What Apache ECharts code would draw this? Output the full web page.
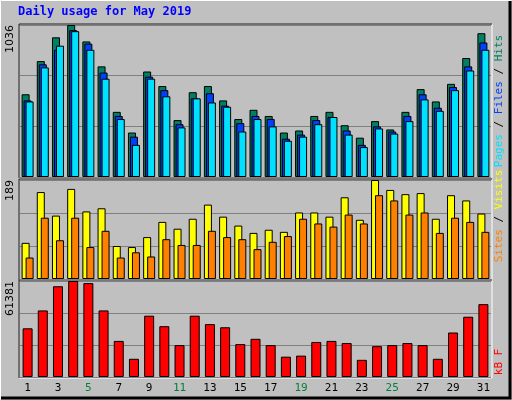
<!DOCTYPE html><html><head><meta charset="utf-8"><script src="https://cdn.jsdelivr.net/npm/echarts@6/dist/echarts.min.js"></script>
<style>html,body{margin:0;padding:0;background:#c0c0c0}#c{width:512px;height:400px}</style></head><body><div id="c"></div><script>
const days=['1','2','3','4','5','6','7','8','9','10','11','12','13','14','15','16','17','18','19','20','21','22','23','24','25','26','27','28','29','30','31'];
const weekend=['4','5','11','12','18','19','25','26'];
const hits=[564,790,952,1036,924,754,444,303,719,620,388,578,620,522,395,458,416,303,317,416,444,353,268,381,324,444,599,515,635,811,980];
const files=[522,768,867,1001,909,712,416,275,684,592,360,536,571,486,367,416,395,261,289,388,409,317,219,345,310,416,564,472,613,754,917];
const pages=[515,747,895,994,867,670,395,219,670,550,338,536,508,479,310,395,345,247,275,360,409,289,204,331,296,381,529,451,592,726,867];
const sites=[69,166,121,172,129,135,63,61,80,109,96,115,142,119,102,88,94,90,127,127,119,156,113,189,170,162,164,115,160,150,125];
const visits=[41,117,74,117,61,92,41,51,43,76,65,65,92,80,76,57,71,82,115,106,100,123,106,160,150,123,127,88,117,109,90];
const kbytes=[31136,42560,58016,61381,60032,42560,23072,11648,39200,32480,20384,39200,33824,31808,21056,24416,20384,12992,13664,22400,23072,21728,10976,19712,20384,21728,20384,11648,28448,38528,46592];
const maxHits=1036,maxSites=189,maxKB=61381;
const F='DejaVu Sans Mono';
const grids=[{left:20,right:21,top:25,height:152},{left:20,right:21,top:180,height:99},{left:20,right:21,top:281,height:96}];
function xa(i,show){return {gridIndex:i,type:'category',data:days,axisLine:{show:false},axisTick:{show:false},
 axisLabel:{show:show,fontFamily:F,fontSize:11,margin:6,color:v=>weekend.includes(v)?'#008040':'#000000'}};}
function ya(i,max){return {gridIndex:i,min:0,max:max,interval:max/3,axisLine:{show:false},axisTick:{show:false},
 splitLine:{lineStyle:{color:'#808080',width:1}},
 axisLabel:{rotate:90,fontFamily:'DejaVu Sans',fontSize:11,color:'#000',margin:4,verticalAlign:'bottom',align:'right',
 formatter:v=>Math.abs(v-max)<0.01?String(max):''}};}
const bs=(c)=>({color:c,borderColor:'#000',borderWidth:1});
const chart=echarts.init(document.getElementById('c'),null,{renderer:'canvas'});
const panel=(g)=>[
 {type:'rect',shape:{x:g.left-1,y:g.top-1,width:512-g.left-g.right+2,height:g.height+2},style:{fill:'none',stroke:'#ffffff',lineWidth:1}},
 {type:'polyline',shape:{points:[[g.left-1,g.top+g.height+1],[g.left-1,g.top-1],[512-g.right+1,g.top-1]]},style:{stroke:'#000',lineWidth:1,fill:'none'}}];
chart.setOption({
 backgroundColor:'#c0c0c0',animation:false,
 grid:grids,
 xAxis:[xa(0,false),xa(1,false),xa(2,true)],
 yAxis:[ya(0,maxHits),ya(1,maxSites),ya(2,maxKB)],
 graphic:[
  {type:'polyline',shape:{points:[[0.5,399.5],[0.5,0.5],[511.5,0.5]]},style:{stroke:'#ffffff',lineWidth:1,fill:'none'},z:10},
  {type:'polyline',shape:{points:[[1,398],[510,398],[510,1]]},style:{stroke:'#000',lineWidth:3,fill:'none'},z:10},
  {type:'text',left:18,top:6,style:{text:'Daily usage for May 2019',font:'bold 12px "DejaVu Sans Mono"',fill:'#0000ff'}},
  ...panel(grids[0]),...panel(grids[1]),...panel(grids[2]),
  {type:'text',x:499,y:101,rotation:Math.PI/2,style:{align:'center',verticalAlign:'middle',font:'11px "DejaVu Sans Mono"',
   rich:{p:{fill:'#00e0ff',font:'11px "DejaVu Sans Mono"'},s:{fill:'#000',font:'11px "DejaVu Sans Mono"'},f:{fill:'#0040ff',font:'11px "DejaVu Sans Mono"'},h:{fill:'#008060',font:'11px "DejaVu Sans Mono"'}},
   text:'{p|Pages}{s| / }{f|Files}{s| / }{h|Hits}'}},
  {type:'text',x:499,y:216,rotation:Math.PI/2,style:{align:'center',verticalAlign:'middle',
   rich:{a:{fill:'#ff8000',font:'11px "DejaVu Sans Mono"'},s:{fill:'#000',font:'11px "DejaVu Sans Mono"'},b:{fill:'#ffff00',font:'11px "DejaVu Sans Mono"'}},
   text:'{a|Sites}{s| / }{b|Visits}'}},
  {type:'text',x:499,y:362,rotation:Math.PI/2,style:{align:'center',verticalAlign:'middle',font:'11px "DejaVu Sans Mono"',fill:'#ff0000',text:'kB F'}}
 ],
 series:[
  {type:'bar',xAxisIndex:0,yAxisIndex:0,data:hits,barWidth:8,barGap:'-75%',itemStyle:bs('#008060')},
  {type:'bar',xAxisIndex:0,yAxisIndex:0,data:files,barWidth:8,barGap:'-75%',itemStyle:bs('#0040ff')},
  {type:'bar',xAxisIndex:0,yAxisIndex:0,data:pages,barWidth:8,barGap:'-75%',itemStyle:bs('#00e0ff')},
  {type:'bar',xAxisIndex:1,yAxisIndex:1,data:sites,barWidth:8,barGap:'-50%',itemStyle:bs('#ffff00')},
  {type:'bar',xAxisIndex:1,yAxisIndex:1,data:visits,barWidth:8,barGap:'-50%',itemStyle:bs('#ff8000')},
  {type:'bar',xAxisIndex:2,yAxisIndex:2,data:kbytes,barWidth:10,itemStyle:bs('#ff0000')}
 ]
});
</script></body></html>
